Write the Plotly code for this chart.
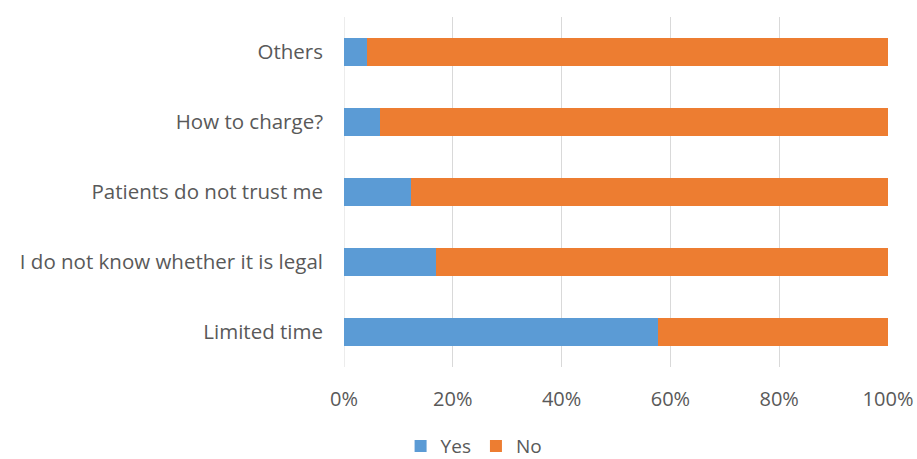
import plotly.graph_objects as go

categories = ["Limited time", "I do not know whether it is legal", "Patients do not trust me",
              "How to charge?", "Others"]
yes_pct = [57.7, 16.9, 12.4, 6.6, 4.2]
no_pct = [100 - v for v in yes_pct]
x_ticks = [0, 20, 40, 60, 80, 100]
x_tick_labels = ["0%", "20%", "40%", "60%", "80%", "100%"]

font_family = "Open Sans, Liberation Sans, sans-serif"
grey = "#595959"

fig = go.Figure()
fig.add_trace(go.Bar(y=categories, x=yes_pct, name="Yes", orientation="h",
                     marker=dict(color="#5b9bd5", line=dict(width=0))))
fig.add_trace(go.Bar(y=categories, x=no_pct, name="No", orientation="h",
                     marker=dict(color="#ed7d31", line=dict(width=0))))

fig.update_layout(
    width=917, height=459,
    barmode="stack", bargap=0.6,
    paper_bgcolor="white", plot_bgcolor="white",
    margin=dict(l=344, r=29, t=17, b=92),
    font=dict(family=font_family, size=20, color=grey),
    xaxis=dict(range=[0, 100], tickvals=x_ticks, ticktext=x_tick_labels,
               showgrid=True, gridcolor="#d9d9d9", gridwidth=1,
               zeroline=False, showline=False, ticks="", ticklen=0,
               ticklabelstandoff=18,
               tickfont=dict(size=20, color=grey), automargin=False),
    yaxis=dict(showgrid=False, zeroline=False, showline=False, ticks="",
               ticklabelstandoff=20,
               tickfont=dict(size=20.5, color=grey), automargin=False),
    legend=dict(orientation="h", x=0.517, xanchor="center",
                xref="container", yref="container",
                y=0.028, yanchor="middle",
                font=dict(size=19, color=grey), traceorder="normal",
                itemwidth=30),
    showlegend=True,
)
fig.add_shape(type="line", xref="x", yref="paper", x0=0, x1=0, y0=0, y1=1,
              line=dict(color="#d9d9d9", width=1), layer="below")

fig.write_html("out.html", config={"displayModeBar": False},
               post_script="document.body.style.margin='0px';")
